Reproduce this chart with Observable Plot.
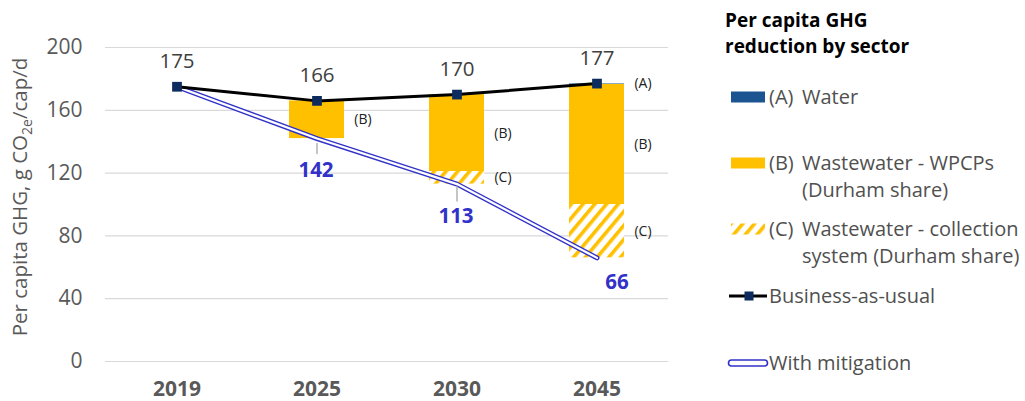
<!DOCTYPE html>
<html><head><meta charset="utf-8">
<script src="https://cdn.jsdelivr.net/npm/d3@7"></script>
<script src="https://cdn.jsdelivr.net/npm/@observablehq/plot@0.6"></script>
<style>body{margin:0;background:#fff;font-family:"Open Sans",sans-serif}</style>
</head><body><div id="chart"></div>
<script>
const years = ["2019", "2025", "2030", "2045"];
const bau = [175, 166, 170, 177];
const mitigated = [175, 142, 113, 66];
const waterCut = [0, 0, 0, 0.5];
const wpcpCut = [0, 24, 49, 76.5];
const collectionCut = [0, 0, 8, 34];
const yTicks = [0, 40, 80, 120, 160, 200];
const segCodes = ["(A)", "(B)", "(C)"];
const legendTitle = ["Per capita GHG", "reduction by sector"];
const legendText = [
  ["Water"],
  ["Wastewater - WPCPs", "(Durham share)"],
  ["Wastewater - collection", "system (Durham share)"],
  ["Business-as-usual"],
  ["With mitigation"]
];

const FONT = '"Open Sans", sans-serif';
const YELLOW = "#FFC000", WATER = "#1b5491", NAVY = "#0d2b5c", MITI = "#3232c8", GREY = "#505050";

const points = years.map((y, i) => ({year: y, bau: bau[i], mit: mitigated[i]}));
const segs = [];
years.forEach((y, i) => {
  const cuts = [waterCut[i], wpcpCut[i], collectionCut[i]];
  let top = bau[i];
  cuts.forEach((c, k) => {
    if (c > 0) segs.push({year: y, code: segCodes[k], k, y1: top, y2: top - c, mid: top - c / 2});
    top -= c;
  });
});
const fills = ["url(#water)", YELLOW, "url(#hatch)"];
const spike = {draw(ctx, l) { ctx.moveTo(0, 0); ctx.lineTo(0, -l); }};

const defs = () => {
  const d = d3.create("svg:defs");
  const p = d.append("pattern").attr("id", "hatch").attr("patternUnits", "userSpaceOnUse")
    .attr("width", 9).attr("height", 9).attr("patternTransform", "rotate(40)");
  p.append("rect").attr("width", 9).attr("height", 9).attr("fill", "#fff");
  p.append("rect").attr("width", 3.6).attr("height", 9).attr("fill", YELLOW);
  const w = d.append("pattern").attr("id", "water").attr("patternUnits", "userSpaceOnUse")
    .attr("width", 4).attr("height", 4);
  w.append("rect").attr("width", 4).attr("height", 4).attr("fill", "#5b8fc9");
  return d.node();
};

const chart = Plot.plot({
  width: 1025, height: 401,
  marginLeft: 105, marginRight: 357, marginTop: 47, marginBottom: 40,
  style: {fontFamily: FONT, background: "#fff"},
  x: {domain: years, paddingInner: 0.61, paddingOuter: 0.305, label: null},
  y: {domain: [0, 200], label: null},
  marks: [
    defs,
    Plot.ruleY(yTicks, {stroke: "#d9d9d9", strokeWidth: 1.2}),
    Plot.axisY({ticks: yTicks, tickSize: 0, tickPadding: 23, fontSize: 21, fill: "#595959", label: null}),
    Plot.axisX({tickSize: 0, tickPadding: 20, fontSize: 21, fontWeight: "bold", fill: "#595959", label: null}),
    Plot.rectY(segs, {x: "year", y1: "y1", y2: "y2", fill: d => fills[d.k]}),
    Plot.text(segs, {x: "year", y: "mid", text: "code", dx: 46, fontSize: 14, fill: "#222"}),
    Plot.line(points, {x: "year", y: "mit", stroke: MITI, strokeWidth: 5}),
    Plot.line(points, {x: "year", y: "mit", stroke: "#fff", strokeWidth: 2.2}),
    Plot.line(points, {x: "year", y: "bau", stroke: "#000", strokeWidth: 3}),
    Plot.dot(points, {x: "year", y: "bau", symbol: "square", r: 5.5, fill: NAVY}),
    Plot.text(points, {x: "year", y: "bau", text: d => String(d.bau), dy: -25, fontSize: 20.5, fill: "#404040"}),
    Plot.vector(points.filter((d, i) => i === 1), {x: "year", y: "mit", length: 10, rotate: 180, anchor: "start", shape: spike, dy: 5, stroke: "#a6a6a6", strokeWidth: 1.3}),
    Plot.vector(points.filter((d, i) => i === 2), {x: "year", y: "mit", length: 15, rotate: 180, anchor: "start", shape: spike, dy: 2, stroke: "#a6a6a6", strokeWidth: 1.3}),
    Plot.text(points.filter((d, i) => i === 1 || i === 2), {x: "year", y: "mit", text: d => String(d.mit), dy: 32, dx: -1, fontSize: 20.5, fontWeight: "bold", fill: MITI}),
    Plot.text(points.filter((d, i) => i === 3), {x: "year", y: "mit", text: d => String(d.mit), dy: 25, dx: 20, fontSize: 20.5, fontWeight: "bold", fill: MITI})
  ]
});

const svg = d3.select(chart);
// y-axis title with subscript
const yt = svg.append("text").attr("transform", "translate(27,197) rotate(-90)")
  .attr("text-anchor", "middle").attr("font-size", 20.5).attr("fill", "#595959").attr("font-family", FONT);
yt.append("tspan").text("Per capita GHG, g CO");
yt.append("tspan").attr("font-size", 14).attr("dy", 5).text("2e");
yt.append("tspan").attr("dy", -5).text("/cap/d");

// legend
const lg = svg.append("g").attr("font-family", FONT).attr("text-anchor", "start");
legendTitle.forEach((t, i) => lg.append("text").attr("x", 725).attr("y", 27 + i * 26)
  .attr("font-size", 19).attr("font-weight", "bold").attr("fill", "#000").text(t));
const rowY = [97, 163, 229, 296, 363];
lg.append("rect").attr("x", 731).attr("y", rowY[0] - 5.5).attr("width", 34).attr("height", 11).attr("fill", WATER);
lg.append("rect").attr("x", 731).attr("y", rowY[1] - 5.5).attr("width", 34).attr("height", 11).attr("fill", YELLOW);
lg.append("rect").attr("x", 731).attr("y", rowY[2] - 5.5).attr("width", 34).attr("height", 11).attr("fill", "url(#hatch)");
lg.append("line").attr("x1", 729).attr("x2", 767).attr("y1", rowY[3]).attr("y2", rowY[3]).attr("stroke", "#000").attr("stroke-width", 3);
lg.append("rect").attr("x", 744.5).attr("y", rowY[3] - 4.5).attr("width", 9).attr("height", 9).attr("fill", NAVY);
lg.append("rect").attr("x", 728.5).attr("y", rowY[4] - 3).attr("width", 39).attr("height", 6).attr("rx", 3)
  .attr("fill", "#fff").attr("stroke", MITI).attr("stroke-width", 1.6);
legendText.forEach((lines, i) => {
  const code = i < 3 ? segCodes[i] : null;
  if (code) lg.append("text").attr("x", 769).attr("y", rowY[i] + 7).attr("font-size", 20).attr("fill", GREY).text(code);
  lines.forEach((t, j) => lg.append("text").attr("x", code ? 802 : 769).attr("y", rowY[i] + 7 + j * 27)
    .attr("font-size", 20).attr("fill", GREY).text(t));
});

document.getElementById("chart").appendChild(chart);
</script>
</body></html>
